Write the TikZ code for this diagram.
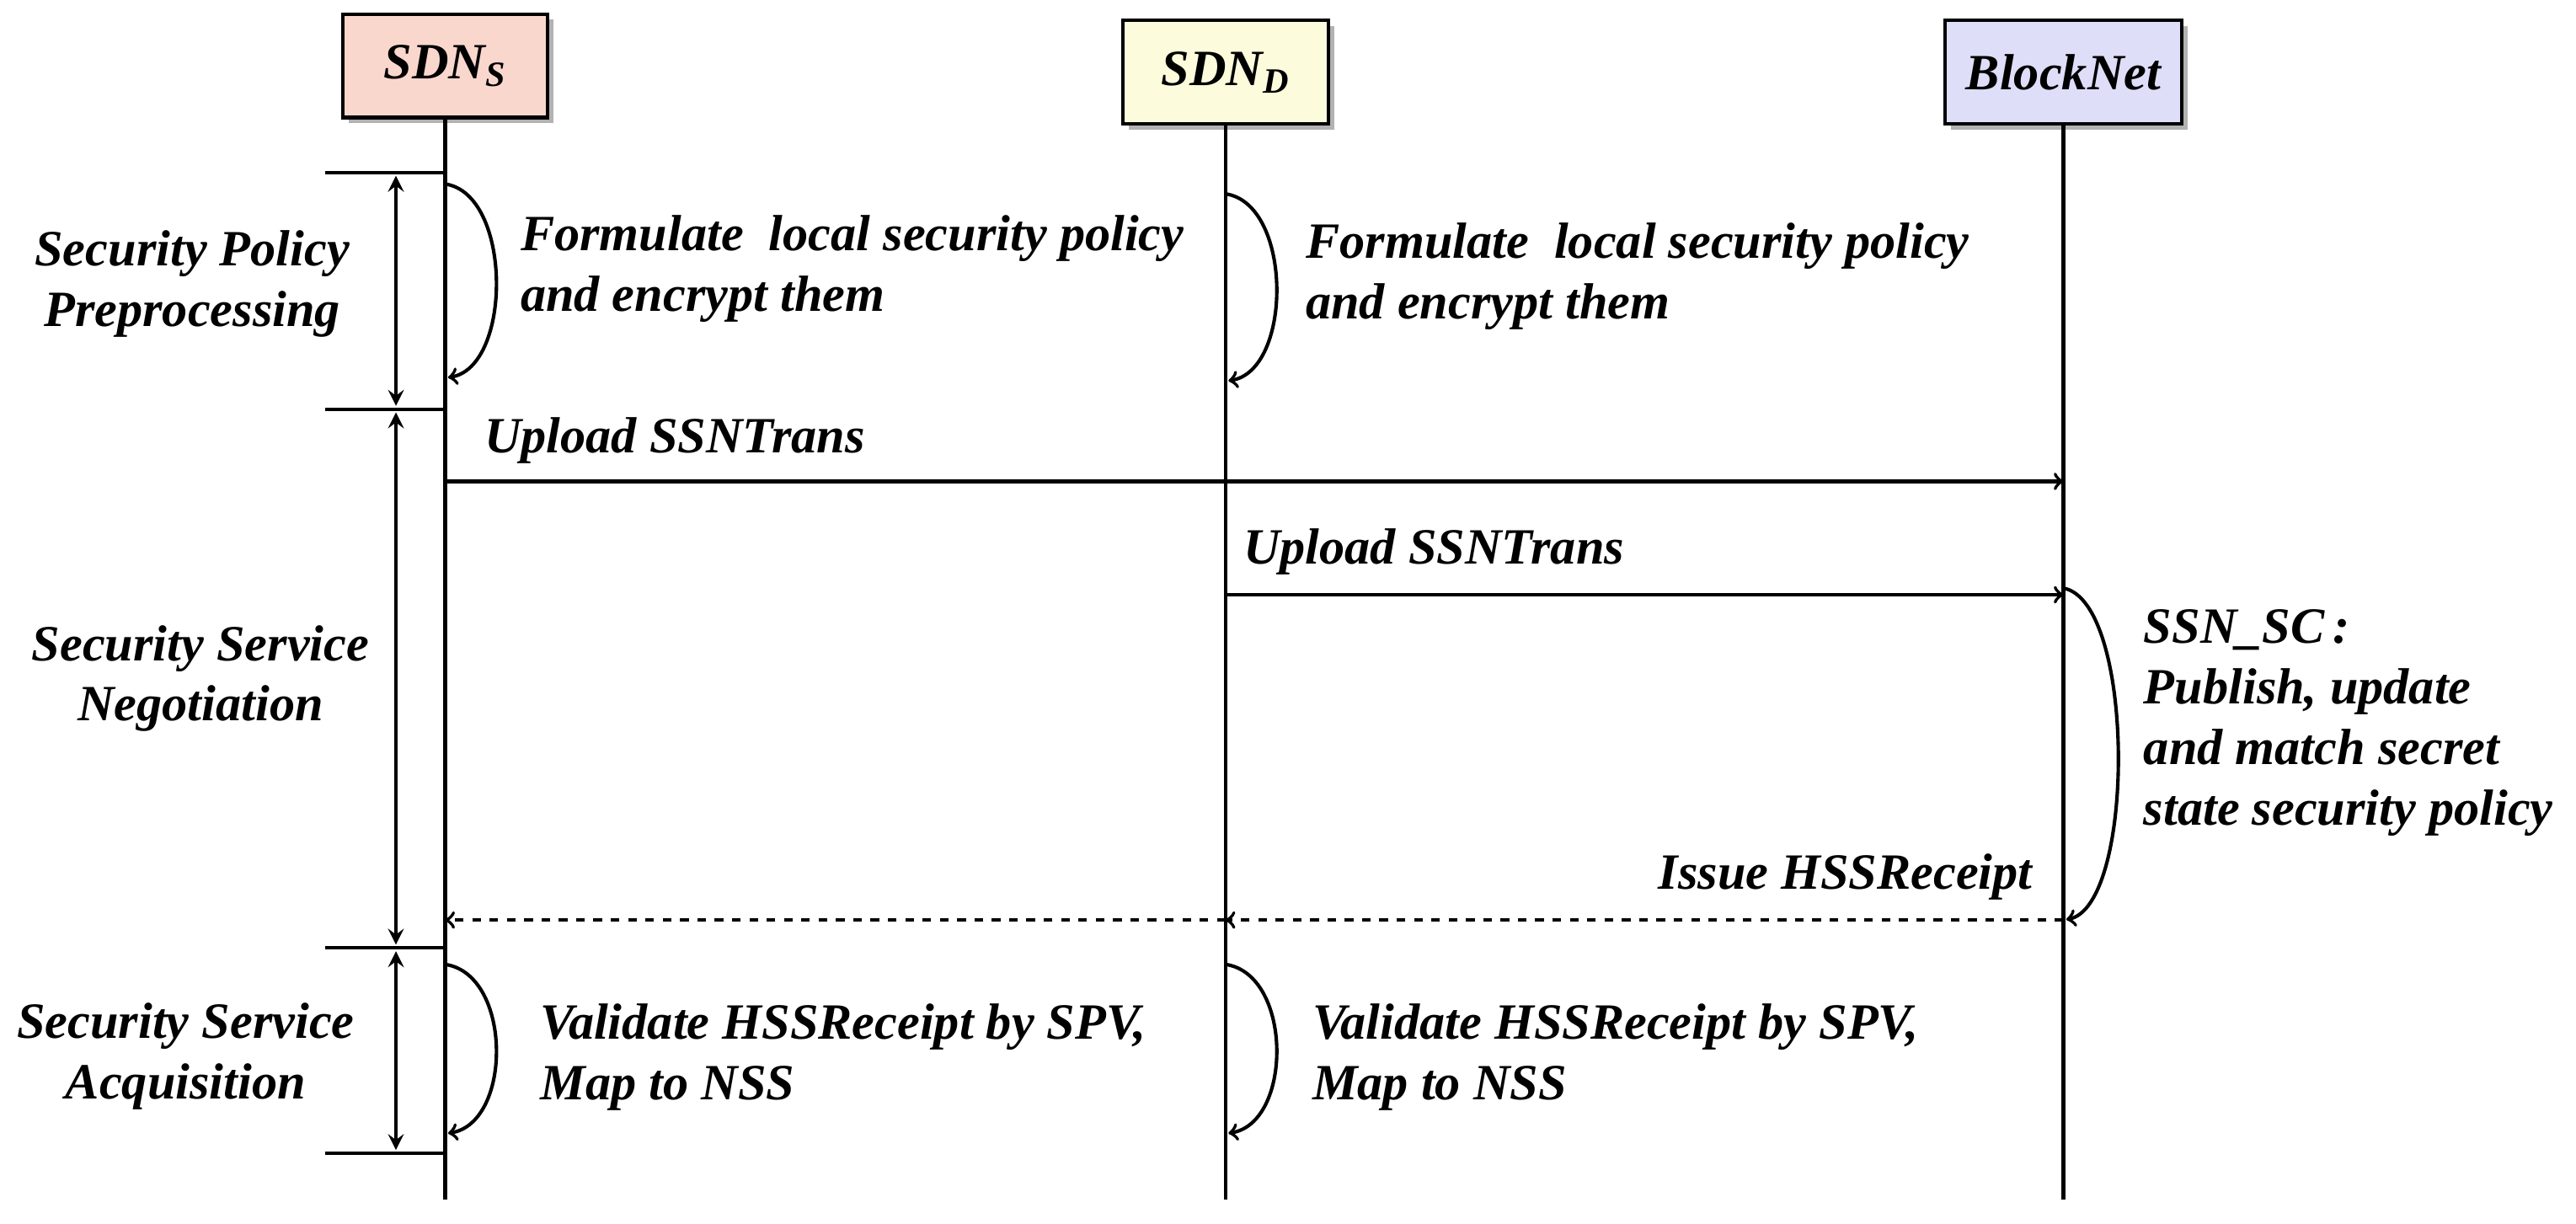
\documentclass[tikz,border=0pt]{standalone}
\usepackage{fontspec}
\setmainfont{Liberation Serif}
\usetikzlibrary{arrows,shapes,shadows}
\definecolor{pinkhd}{RGB}{250,215,205}
\definecolor{yellowhd}{RGB}{252,252,220}
\definecolor{bluehd}{RGB}{222,222,248}
\newcommand{\sbs}[1]{\textsubscript{#1}}
\begin{document}
\begin{tikzpicture}[x=0.02cm,y=-0.02cm,>=to,line width=1.2pt,
  font=\fontsize{17.6}{21}\selectfont\bfseries\itshape,
  head/.style={rectangle,draw,minimum width=2.5cm,minimum height=1.26cm,drop shadow={shadow xshift=2pt,shadow yshift=-2pt,fill=black!60}},
  phase/.style={align=center},
  note/.style={align=left,anchor=north west},
  loop/.style={->,shorten >=1pt},
  span/.style={stealth-stealth,line width=1.4pt}]
  \useasboundingbox (0,0) rectangle (1568,745);

  % heads
  \node[head,fill=pinkhd] (s) at (271,40) {SDN\sbs{S}};
  \node[head,fill=yellowhd] (d) at (746,44) {SDN\sbs{D}};
  \node[head,fill=bluehd,minimum width=2.88cm] (b) at (1256,44) {BlockNet};
  \coordinate (sEnd) at (271,730);
  \coordinate (dEnd) at (746,730);
  \coordinate (bEnd) at (1256,730);
  \draw (s) -- (sEnd);
  \draw (d) -- (dEnd);
  \draw (b) -- (bEnd);

  % phases
  \foreach \y/\n in {105/p1,249/p2,577/p3,702/p4}
    \draw (198,\y) coordinate (\n) -- (271,\y);
  \draw[span] (241,107) -- (241,247);
  \draw[span] (241,251) -- (241,575);
  \draw[span] (241,579) -- (241,700);
  \node[phase] (ph1) at (117,173) {Security Policy\\Preprocessing};
  \node[phase] (ph2) at (122,413) {Security Service\\Negotiation};
  \node[phase] (ph3) at (113,643) {Security Service\\Acquisition};

  % self loops
  \draw[loop] (271,112) .. controls (312,118) and (312,224) .. (271,230);
  \node[note] (n1) at (310,124) {Formulate\ \ local security policy\\and encrypt them};
  \draw[loop] (746,118) .. controls (787,124) and (787,226) .. (746,232);
  \node[note] (n2) at (788,129) {Formulate\ \ local security policy\\and encrypt them};
  \draw[loop] (271,587) .. controls (312,593) and (312,684) .. (271,690);
  \node[note] (n3) at (322,604) {Validate HSSReceipt by SPV,\\Map to NSS};
  \draw[loop] (746,587) .. controls (787,593) and (787,684) .. (746,690);
  \node[note] (n4) at (792,604) {Validate HSSReceipt by SPV,\\Map to NSS};

  % negotiation
  \draw[->] (271,293) -- (1256,293);
  \node[anchor=west] (u1) at (288,268) {Upload SSNTrans};
  \draw[->] (746,362) -- (1256,362);
  \node[anchor=west] (u2) at (750,336) {Upload SSNTrans};
  \draw[loop] (1256,358) .. controls (1300,366) and (1300,552) .. (1256,560);
  \node[note] (sc) at (1298,364) {SSN\_SC\,:\\Publish, update\\and match secret\\state security policy};
  \draw[dashed,->] (1256,560) -- (746,560);
  \draw[dashed,->] (746,560) -- (271,560);
  \node[anchor=east] (iss) at (1244,534) {Issue HSSReceipt};
\end{tikzpicture}
\end{document}
